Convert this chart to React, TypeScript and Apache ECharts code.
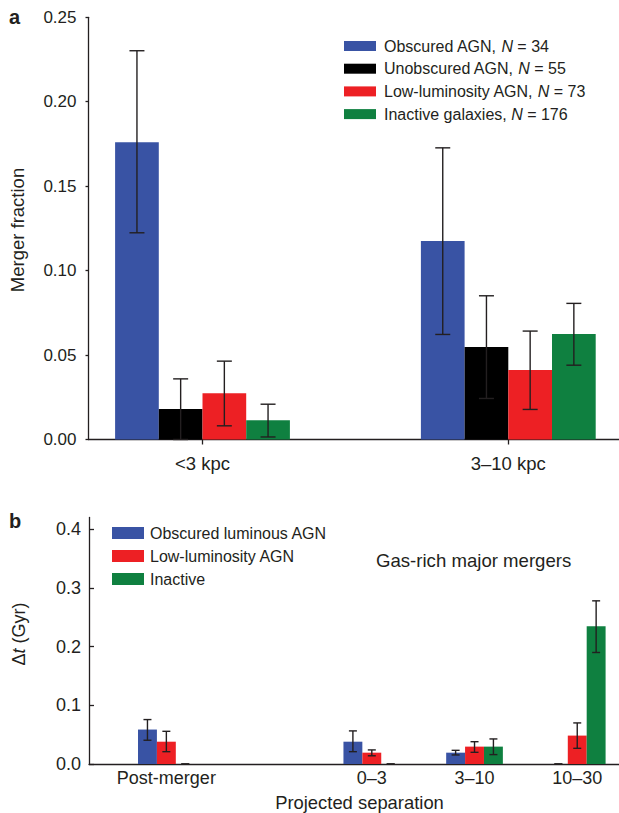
import React, { useEffect, useRef } from 'react';
import * as echarts from 'echarts';

// ---------- Panel a ----------
const topCategories = ['<3 kpc', '3–10 kpc'];
const topNames = [
  'Obscured AGN, N = 34',
  'Unobscured AGN, N = 55',
  'Low-luminosity AGN, N = 73',
  'Inactive galaxies, N = 176',
];
const obscuredA = [0.176, 0.1175];
const obscuredALo = [0.1224, 0.0622];
const obscuredAHi = [0.2302, 0.1727];
const unobscuredA = [0.018, 0.0547];
const unobscuredALo = [0.0, 0.0243];
const unobscuredAHi = [0.0359, 0.0851];
const lowLumA = [0.0274, 0.0411];
const lowLumALo = [0.0081, 0.0178];
const lowLumAHi = [0.0464, 0.0642];
const inactiveA = [0.0114, 0.0624];
const inactiveALo = [0.0015, 0.044];
const inactiveAHi = [0.0209, 0.0806];
const topTicks = [0, 0.05, 0.1, 0.15, 0.2, 0.25];

// ---------- Panel b ----------
const bottomCategories = ['Post-merger', '', '0–3', '3–10', '10–30'];
const bottomNames = ['Obscured luminous AGN', 'Low-luminosity AGN', 'Inactive'];
const obscuredB = [0.0587, null, 0.038, 0.0193, 0];
const obscuredBLo = [0.0405, null, 0.021, 0.0154, 0];
const obscuredBHi = [0.0757, null, 0.0564, 0.0233, 0];
const lowLumB = [0.038, null, 0.0193, 0.0296, 0.0484];
const lowLumBLo = [0.021, null, 0.014, 0.0199, 0.0267];
const lowLumBHi = [0.0557, null, 0.024, 0.038, 0.07];
const inactiveB = [0, null, 0, 0.0296, 0.2347];
const inactiveBLo = [0, null, 0, 0.016, 0.19];
const inactiveBHi = [0, null, 0, 0.0427, 0.278];
const bottomTicks = [0, 0.1, 0.2, 0.3, 0.4];

const COLORS = ['#3953a4', '#000000', '#ed2024', '#0f8040'];
const COLORS_B = ['#3953a4', '#ed2024', '#0f8040'];
const FONT = '"Liberation Sans", Arial, Helvetica, sans-serif';
const INK = '#231f20';

const TOP_BAR_W = 43.7;
const BOT_BAR_W = 18.9;

function errData(lo: (number | null)[], hi: (number | null)[]) {
  const out: number[][] = [];
  lo.forEach((l, i) => {
    const h = hi[i];
    if (l !== null && h !== null) out.push([i, l, h]);
  });
  return out;
}

function errorSeries(data: number[][], axisIndex: number, offset: number, cap: number) {
  return {
    type: 'custom',
    xAxisIndex: axisIndex,
    yAxisIndex: axisIndex,
    z: 5,
    silent: true,
    encode: { x: 0, y: [1, 2] },
    data,
    renderItem: (params: any, api: any) => {
      const c = api.value(0);
      const lo = api.value(1);
      const hi = api.value(2);
      const pLo = api.coord([c, lo]);
      const pHi = api.coord([c, hi]);
      const x = pLo[0] + offset;
      const style = { stroke: INK, lineWidth: 1.4 };
      return {
        type: 'group',
        children: [
          { type: 'line', shape: { x1: x, y1: pHi[1], x2: x, y2: pLo[1] }, style },
          { type: 'line', shape: { x1: x - cap / 2, y1: pHi[1], x2: x + cap / 2, y2: pHi[1] }, style },
          { type: 'line', shape: { x1: x - cap / 2, y1: pLo[1], x2: x + cap / 2, y2: pLo[1] }, style },
        ],
      };
    },
  };
}

const legendFormatter = (name: string) => name.replace('N = ', '{i|N} = ');

export default function App() {
  const ref = useRef<HTMLDivElement>(null);

  useEffect(() => {
    if (!ref.current) return;
    const chart = echarts.init(ref.current, null, { renderer: 'svg' });

    const topVals = [obscuredA, unobscuredA, lowLumA, inactiveA];
    const topLo = [obscuredALo, unobscuredALo, lowLumALo, inactiveALo];
    const topHi = [obscuredAHi, unobscuredAHi, lowLumAHi, inactiveAHi];
    const botVals = [obscuredB, lowLumB, inactiveB];
    const botLo = [obscuredBLo, lowLumBLo, inactiveBLo];
    const botHi = [obscuredBHi, lowLumBHi, inactiveBHi];

    const axisLineStyle = { color: INK, width: 1.3 };

    const series: any[] = [];
    topNames.forEach((name, k) => {
      series.push({
        type: 'bar',
        name,
        xAxisIndex: 1,
        yAxisIndex: 1,
        data: topVals[k],
        barWidth: TOP_BAR_W,
        barGap: '0%',
        itemStyle: { color: COLORS[k] },
        silent: true,
      });
    });
    topNames.forEach((_, k) => {
      series.push(errorSeries(errData(topLo[k], topHi[k]), 1, (k - 1.5) * TOP_BAR_W, 15));
    });
    bottomNames.forEach((name, k) => {
      series.push({
        type: 'bar',
        name,
        xAxisIndex: 3,
        yAxisIndex: 3,
        data: botVals[k].map((v) => (v === null ? '-' : v)),
        barWidth: BOT_BAR_W,
        barGap: '0%',
        itemStyle: { color: COLORS_B[k] },
        silent: true,
      });
    });
    bottomNames.forEach((_, k) => {
      series.push(errorSeries(errData(botLo[k], botHi[k]), 3, (k - 1) * BOT_BAR_W, 8));
    });

    const option: any = {
      animation: false,
      backgroundColor: '#ffffff',
      textStyle: { fontFamily: FONT, color: INK },
      grid: [
        { left: 88.5, top: 17.3, right: 0, height: 422.2, outerBoundsMode: 'none' },
        { left: 49.6, top: 17.3, width: 611.6, height: 422.2, outerBoundsMode: 'none' },
        { left: 89, top: 517.5, right: 0, height: 246.5, outerBoundsMode: 'none' },
        { left: 115, top: 517.5, width: 513.6, height: 246.5, outerBoundsMode: 'none' },
      ],
      xAxis: [
        {
          gridIndex: 0, type: 'value', min: 0, max: 1,
          axisLine: { show: true, lineStyle: axisLineStyle },
          axisTick: { show: false }, axisLabel: { show: false }, splitLine: { show: false },
        },
        {
          gridIndex: 1, type: 'category', data: topCategories,
          axisLine: { show: false },
          axisTick: { show: true, alignWithLabel: true, length: 5, lineStyle: { color: INK, width: 1.3 } },
          axisLabel: { fontSize: 18.5, color: INK, fontFamily: FONT, margin: 14 },
          splitLine: { show: false },
        },
        {
          gridIndex: 2, type: 'value', min: 0, max: 1,
          axisLine: { show: true, lineStyle: axisLineStyle },
          axisTick: { show: false }, axisLabel: { show: false }, splitLine: { show: false },
        },
        {
          gridIndex: 3, type: 'category', data: bottomCategories,
          axisLine: { show: false },
          axisTick: { show: false },
          axisLabel: { fontSize: 18, color: INK, fontFamily: FONT, margin: 5, interval: 0 },
          splitLine: { show: false },
        },
      ],
      yAxis: [
        {
          gridIndex: 0, type: 'value', min: 0, max: 0.25, interval: 0.05,
          axisLine: { show: true, lineStyle: axisLineStyle },
          axisTick: { show: true, inside: false, length: 3, lineStyle: { color: INK, width: 1.3 }, customValues: topTicks },
          axisLabel: {
            fontSize: 17, color: INK, fontFamily: FONT, margin: 12,
            customValues: topTicks,
            formatter: (v: number) => v.toFixed(2),
          },
          splitLine: { show: false },
        },
        { gridIndex: 1, type: 'value', min: 0, max: 0.25, show: false },
        {
          gridIndex: 2, type: 'value', min: 0, max: 0.42,
          axisLine: { show: true, lineStyle: axisLineStyle },
          axisTick: { show: true, inside: true, length: 5, lineStyle: { color: INK, width: 1.3 }, customValues: bottomTicks },
          axisLabel: {
            fontSize: 18, color: INK, fontFamily: FONT, margin: 8,
            customValues: bottomTicks,
            showMaxLabel: true,
            formatter: (v: number) => (Math.abs(v * 10 - Math.round(v * 10)) > 1e-6 ? '' : v.toFixed(1)),
          },
          splitLine: { show: false },
        },
        { gridIndex: 3, type: 'value', min: 0, max: 0.42, show: false },
      ],
      legend: [
        {
          data: topNames,
          orient: 'vertical',
          left: 344,
          top: 38,
          padding: 0,
          icon: 'rect',
          itemWidth: 32,
          itemHeight: 10,
          itemGap: 6.7,
          selectedMode: false,
          formatter: legendFormatter,
          textStyle: {
            fontSize: 16, lineHeight: 16, color: INK, fontFamily: FONT, padding: [0, 0, 0, 3],
            rich: { i: { fontStyle: 'italic', fontSize: 16, color: INK, fontFamily: FONT } },
          },
        },
        {
          data: bottomNames,
          orient: 'vertical',
          left: 112,
          top: 525,
          padding: 0,
          icon: 'rect',
          itemWidth: 32,
          itemHeight: 12,
          itemGap: 7,
          selectedMode: false,
          textStyle: { fontSize: 16, lineHeight: 16, color: INK, fontFamily: FONT, padding: [0, 0, 0, 1] },
        },
      ],
      graphic: [
        { type: 'text', left: 9, top: 7, style: { text: 'a', fontSize: 20, fontWeight: 'bold', fontFamily: FONT, fill: INK } },
        { type: 'text', left: 9, top: 511, style: { text: 'b', fontSize: 20, fontWeight: 'bold', fontFamily: FONT, fill: INK } },
        {
          type: 'text', x: 17, y: 230, rotation: Math.PI / 2,
          style: { text: 'Merger fraction', fontSize: 18.5, fontFamily: FONT, fill: INK, align: 'center', verticalAlign: 'middle' },
        },
        {
          type: 'text', x: 19, y: 634, rotation: Math.PI / 2,
          style: {
            text: 'Δ{i|t} (Gyr)', fontSize: 18, fontFamily: FONT, fill: INK, align: 'center', verticalAlign: 'middle',
            rich: { i: { fontStyle: 'italic', fontSize: 18, fontFamily: FONT, fill: INK } },
          },
        },
        {
          type: 'text', x: 376, y: 560.5,
          style: { text: 'Gas-rich major mergers', fontSize: 18.6, fontFamily: FONT, fill: INK, align: 'left', verticalAlign: 'middle' },
        },
        {
          type: 'text', x: 359.5, y: 802,
          style: { text: 'Projected separation', fontSize: 18.4, fontFamily: FONT, fill: INK, align: 'center', verticalAlign: 'middle' },
        },
      ],
      series,
    };

    chart.setOption(option);
    return () => chart.dispose();
  }, []);

  return (
    <div
      ref={ref}
      style={{ position: 'absolute', left: 0, top: 0, width: 619, height: 813, background: '#fff', overflow: 'hidden' }}
    />
  );
}
